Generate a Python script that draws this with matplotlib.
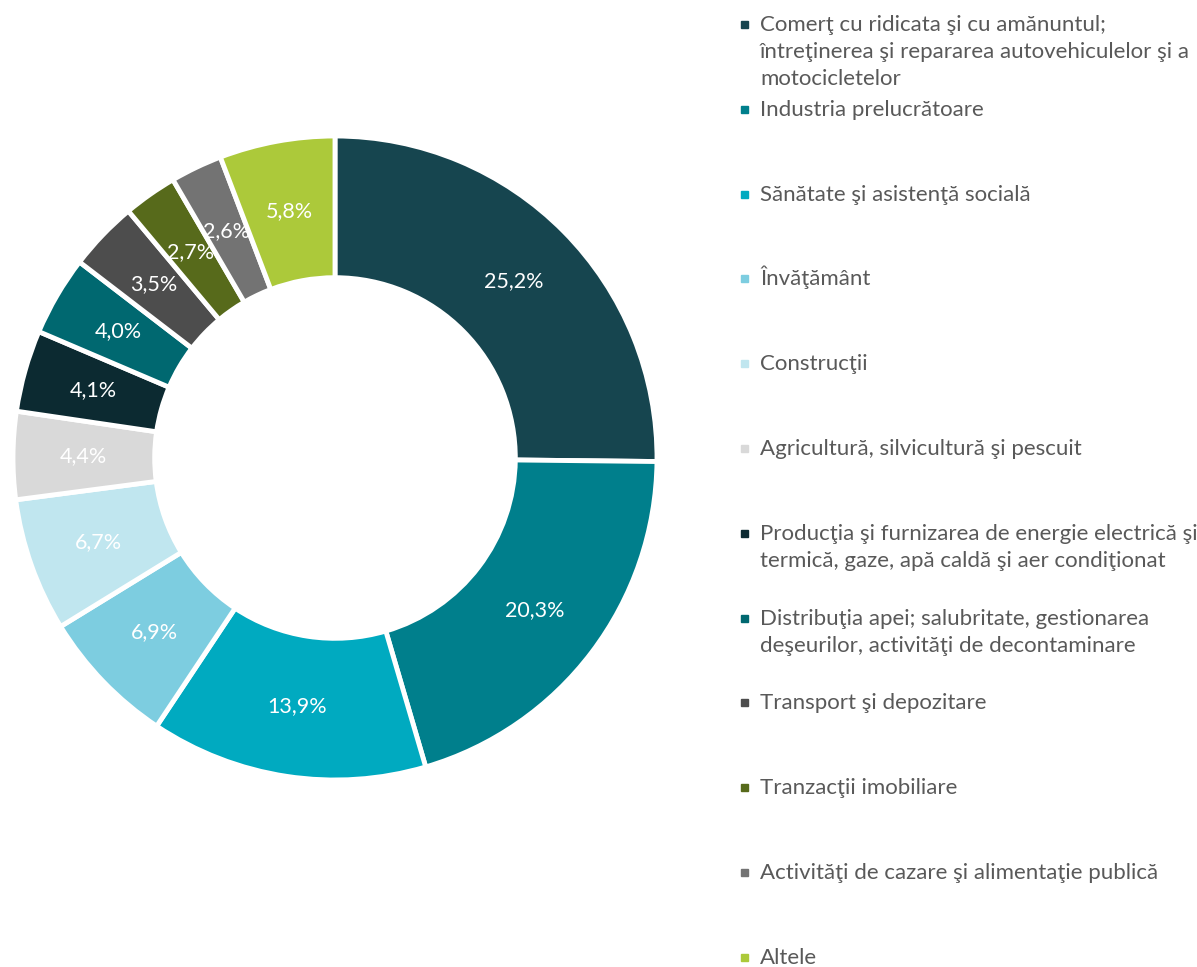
import numpy as np
import matplotlib
matplotlib.use('Agg')
import matplotlib.pyplot as plt

plt.rcParams['font.family'] = ['Lato', 'DejaVu Sans']

## Data
labels = ['Comerţ cu ridicata şi cu amănuntul;\nîntreţinerea şi repararea autovehiculelor şi a\nmotocicletelor',
          'Industria prelucrătoare',
          'Sănătate şi asistenţă socială',
          'Învăţământ',
          'Construcţii',
          'Agricultură, silvicultură şi pescuit',
          'Producţia şi furnizarea de energie electrică şi\ntermică, gaze, apă caldă şi aer condiţionat',
          'Distribuţia apei; salubritate, gestionarea\ndeşeurilor, activităţi de decontaminare',
          'Transport şi depozitare',
          'Tranzacţii imobiliare',
          'Activităţi de cazare şi alimentaţie publică',
          'Altele']
values = [25.2, 20.3, 13.9, 6.9, 6.7, 4.4, 4.1, 4.0, 3.5, 2.7, 2.6, 5.8]
colors = ['#16454f', '#007f8c', '#00aac0', '#7dcde0', '#c0e6ef', '#d9d9d9',
          '#0c2a31', '#006870', '#4d4d4d', '#576a1b', '#737373', '#acc93a']
##

W, H = 1197, 967
fig = plt.figure(figsize=(W / 100, H / 100), dpi=100)

cx, cy, r = 335, 458, 322
ax = fig.add_axes([(cx - r) / W, (H - cy - r) / H, 2 * r / W, 2 * r / H])
wedges, texts, autotexts = ax.pie(
    values, colors=colors, startangle=90, counterclock=False, radius=1.0,
    autopct=lambda p: '', pctdistance=0.78,
    wedgeprops=dict(width=0.44, edgecolor='white', linewidth=3.5))
for t, v in zip(autotexts, values):
    t.set_text(('%.1f%%' % v).replace('.', ','))
    t.set_color('white')
    t.set_fontsize(15.5)
ax.set_xlim(-1, 1)
ax.set_ylim(-1, 1)
ax.set_aspect('equal')
ax.axis('off')

# legend, Excel style: marker on first line, text hanging below
y0, step = 24, 84.8
for i, (lab, col) in enumerate(zip(labels, colors)):
    yy = y0 + i * step
    fig.patches.append(plt.Rectangle((741 / W, 1 - (yy + 4) / H), 7 / W, 7 / H,
                                     transform=fig.transFigure, color=col))
    fig.text(760 / W, 1 - (yy + 7) / H, lab.split('\n')[0], color='#595959',
             fontsize=16, va='baseline', ha='left')
    for j, line in enumerate(lab.split('\n')[1:]):
        fig.text(760 / W, 1 - (yy + 7 + 27 * (j + 1)) / H, line, color='#595959',
                 fontsize=16, va='baseline', ha='left')

fig.savefig('out.png', dpi=100)
